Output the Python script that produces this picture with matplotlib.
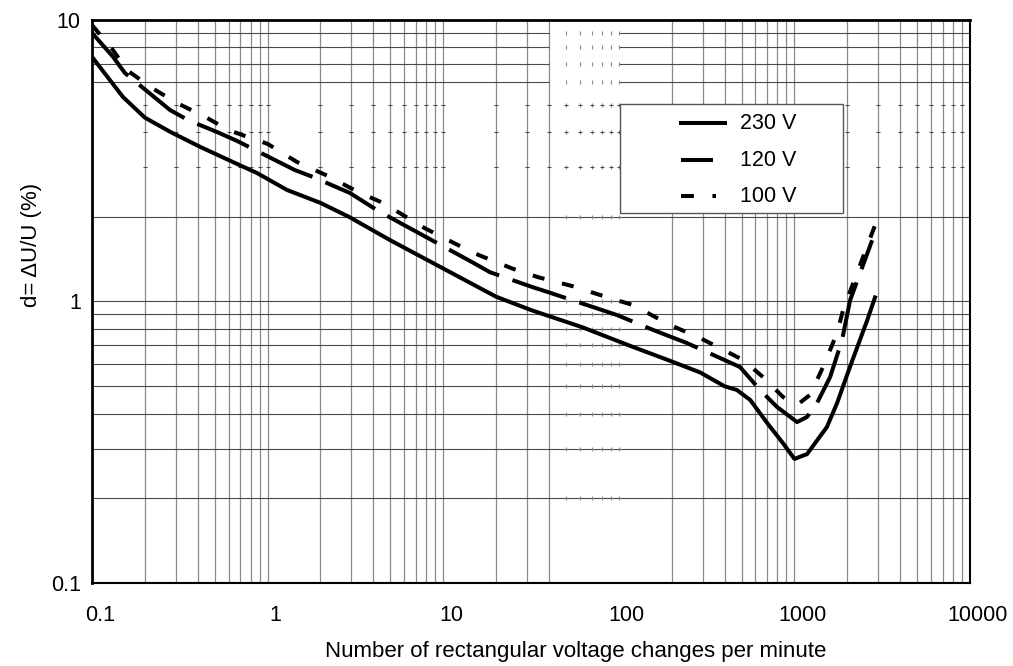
"""
Flicker limit curve: d = dU/U vs. rate of rectangular voltage changes
"""
import numpy as np
import matplotlib.pyplot as plt
import matplotlib.transforms as mtransforms
from matplotlib.patches import Rectangle

plt.rcParams['font.family'] = ['Liberation Sans', 'DejaVu Sans']

# 230 V curve
x230 = [0.1, 0.15, 0.2, 0.28, 0.41, 0.6, 0.87, 1.29, 2.0, 2.9, 5.0, 10, 20, 32,
        62, 120, 190, 290, 400, 470, 560, 700, 860, 1000, 1180, 1350, 1530,
        1750, 2070, 2600, 2900]
y230 = [7.4, 5.33, 4.5, 4.0, 3.55, 3.18, 2.86, 2.49, 2.24, 2.0, 1.65, 1.31, 1.04,
        0.93, 0.81, 0.69, 0.62, 0.56, 0.50, 0.485, 0.447, 0.37, 0.314, 0.276,
        0.287, 0.322, 0.358, 0.436, 0.585, 0.86, 1.05]

# 120 V curve
x120 = [0.1, 0.132, 0.154, 0.278, 0.352, 0.515, 0.669, 1.43, 1.81, 2.94, 4.36,
        5.05, 14.6, 18.5, 32.1, 39.5, 97.7, 157, 244, 490, 637, 796, 1035, 1180,
        1345, 1596, 1868, 2074, 2770]
y120 = [9.0, 7.39, 6.48, 4.79, 4.41, 4.0, 3.72, 2.93, 2.77, 2.43, 2.08, 1.98,
        1.38, 1.27, 1.126, 1.08, 0.895, 0.792, 0.712, 0.585, 0.485, 0.422,
        0.373, 0.389, 0.436, 0.539, 0.73, 1.01, 1.65]

# 100 V curve
x100 = [0.1, 0.132, 0.158, 0.22, 0.305, 0.452, 0.6, 1.0, 1.47, 2.21, 3.27, 4.54,
        7.87, 14.8, 24.7, 34.7, 54.1, 75.1, 120, 196, 290, 510, 662, 861, 1035,
        1227, 1455, 1749, 1893, 2918]
y100 = [9.6, 7.8, 6.64, 5.73, 5.07, 4.49, 4.06, 3.63, 3.13, 2.79, 2.45, 2.24,
        1.82, 1.49, 1.31, 1.22, 1.135, 1.063, 0.972, 0.825, 0.742, 0.62, 0.539,
        0.458, 0.429, 0.466, 0.585, 0.773, 0.933, 1.91]

xticks = [0.1, 1, 10, 100, 1000, 10000]
xticklabels = ['0.1', '1', '10', '100', '1000', '10000']
yticks = [0.1, 1, 10]
yticklabels = ['0.1', '1', '10']

fig = plt.figure(figsize=(10.13, 6.66), dpi=100)
ax = fig.add_axes([0.0908, 0.1246, 0.8668, 0.8454])
ax.set_xscale('log')
ax.set_yscale('log')
ax.set_xlim(0.1, 10000)
ax.set_ylim(0.1, 10)

# grid (drawn by hand: some lines in the original are only dotted)
vcol = '#8a8a8a'
hcol = '#4a4a4a'
xgrid = [d * k for d in [0.1, 1, 10, 100, 1000] for k in range(1, 10)][1:]
ygrid = [d * k for d in [0.1, 1] for k in range(1, 10)][1:]
xgap = [v for v in xgrid if 45 < v < 105]
xfull = [v for v in xgrid if v not in xgap]
ydots = [3, 4, 5]
ysplit = [6, 7, 8, 9]
yfull = [v for v in ygrid if v not in ydots + ysplit]

for v in xfull:
    ax.axvline(v, color=vcol, lw=0.9, zorder=1)
for v in yfull:
    ax.axhline(v, color=hcol, lw=0.8, zorder=1)
for v in ysplit:
    ax.hlines(v, 0.1, 40, color=hcol, lw=0.8, zorder=1)
    ax.hlines(v, 100, 10000, color=hcol, lw=0.8, zorder=1)
for v in xgap:
    ax.plot([v] * len(ygrid), ygrid, ls='none', marker='|', ms=3,
            mew=0.8, color=vcol, zorder=1)
for v in ydots:
    ax.plot(xgrid, [v] * len(xgrid), ls='none', marker='_', ms=3,
            mew=0.8, color=hcol, zorder=1)

# curves
lw = 2.9
ax.plot(x230, y230, color='black', lw=lw, solid_capstyle='butt', zorder=3)
ax.plot(x120, y120, color='black', lw=lw, dashes=(14, 3.5), zorder=3)
ax.plot(x100, y100, color='black', lw=lw, dashes=(3, 4.5), zorder=3)

# legend box
ax.add_patch(Rectangle((0.601, 0.657), 0.254, 0.194, transform=ax.transAxes,
                       facecolor='white', edgecolor='#555555', lw=1.0, zorder=4))
ax.plot([0.669, 0.723], [0.817, 0.817], transform=ax.transAxes, color='black',
        lw=lw, solid_capstyle='butt', zorder=5)
ax.plot([0.671, 0.707], [0.751, 0.751], transform=ax.transAxes, color='black',
        lw=lw, solid_capstyle='butt', zorder=5)
ax.plot([0.671, 0.711], [0.687, 0.687], transform=ax.transAxes, color='black',
        lw=lw, dashes=(3.2, 4.6), zorder=5)
for yy, lab in zip([0.817, 0.751, 0.687], ['230 V', '120 V', '100 V']):
    ax.text(0.738, yy, lab, transform=ax.transAxes, fontsize=15.5,
            va='center', ha='left', zorder=6)

# axes, ticks and labels
for s in ax.spines.values():
    s.set_linewidth(1.5)
    s.set_zorder(7)
ax.spines['top'].set_linewidth(2)
ax.spines['left'].set_linewidth(2)

ax.set_xticks(xticks)
ax.set_xticklabels(xticklabels)
ax.set_yticks(yticks)
ax.set_yticklabels(yticklabels)
ax.xaxis.set_minor_locator(plt.NullLocator())
ax.yaxis.set_minor_locator(plt.NullLocator())
ax.tick_params(axis='x', length=0, pad=16, labelsize=15.5)
ax.tick_params(axis='y', length=0, pad=8, labelsize=15.5)

off = mtransforms.ScaledTranslation(8 / 100, 0, fig.dpi_scale_trans)
for lab in ax.get_xticklabels():
    lab.set_transform(lab.get_transform() + off)

ax.set_xlabel('Number of rectangular voltage changes per minute', fontsize=16)
ax.set_ylabel('d= ΔU/U (%)', fontsize=16)
ax.xaxis.set_label_coords(0.551, -0.103)
ax.yaxis.set_label_coords(-0.057, 0.60)

fig.savefig('out.png', dpi=100)
